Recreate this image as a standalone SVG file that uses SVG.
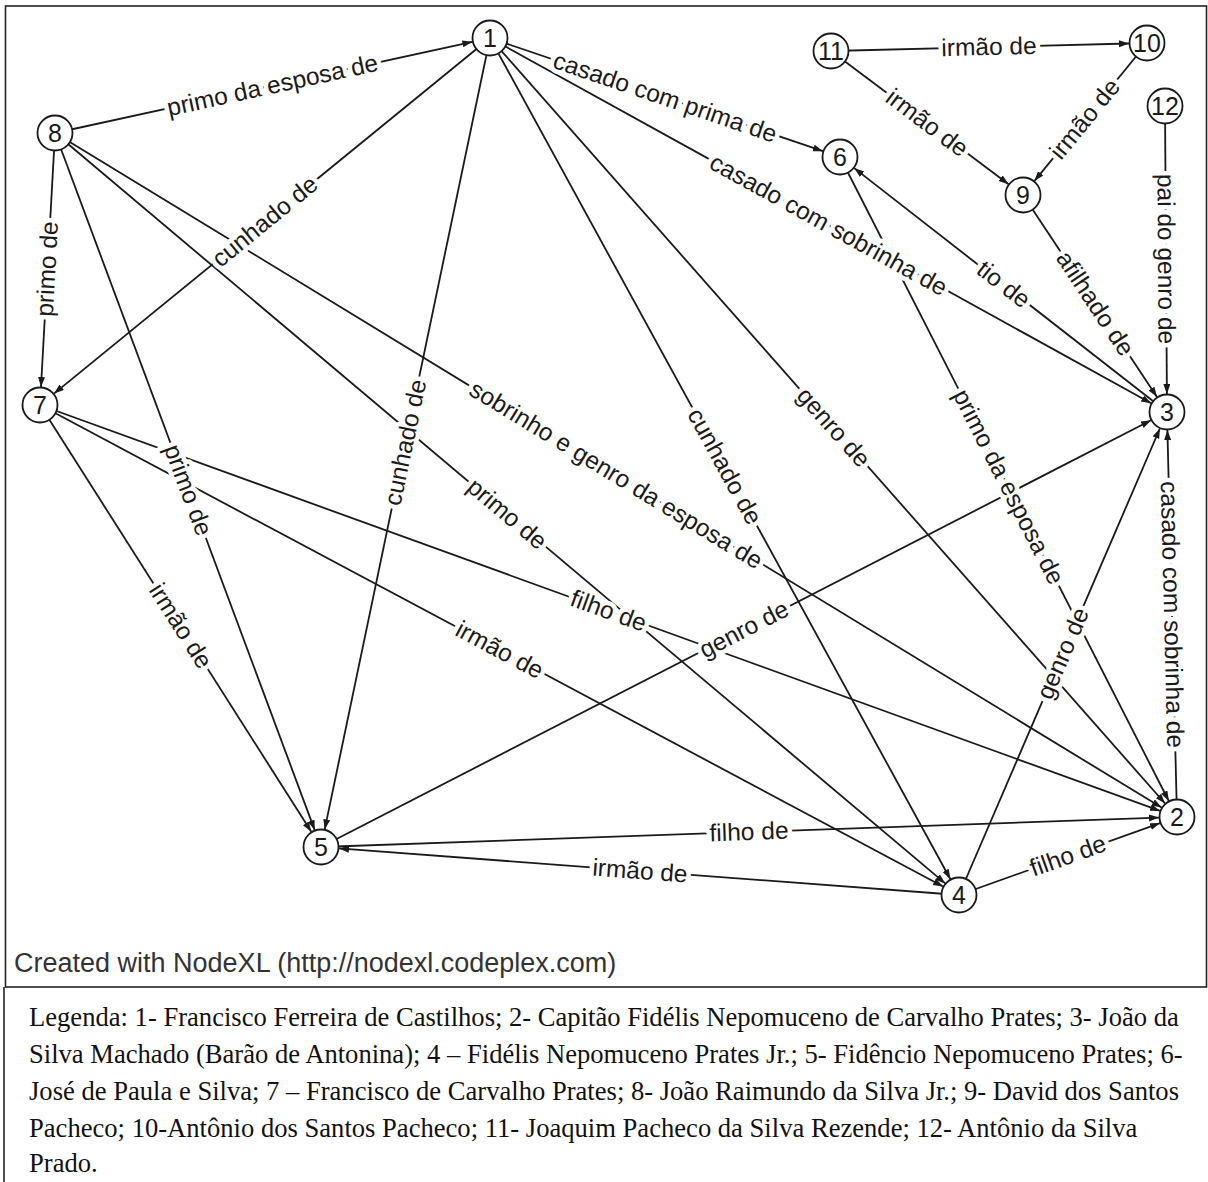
<svg xmlns="http://www.w3.org/2000/svg" width="1208" height="1182" viewBox="0 0 1208 1182">
  <style>
    .edge { stroke: #1a1a1a; stroke-width: 1.8; fill: none; }
    .arrow { marker-end: url(#head); }
    .lbl { font-family: "Liberation Sans", Arial, sans-serif; font-size: 24.5px; fill: #1a1a1a;
           stroke: #ffffff; stroke-width: 9; stroke-linejoin: round; paint-order: stroke; text-anchor: middle; }
    .node circle { fill: #ffffff; stroke: #1a1a1a; stroke-width: 1.8; }
    .node text { font-family: "Liberation Sans", Arial, sans-serif; font-size: 25px; fill: #1a1a1a; text-anchor: middle; }
    .frame { fill: none; stroke: #222; stroke-width: 1.6; }
    .credit { font-family: "Liberation Sans", Arial, sans-serif; font-size: 27px; fill: #333; }
    .legend { font-family: "Liberation Serif", "Times New Roman", serif; font-size: 26.6px; fill: #111; }
  </style>
  <defs>
    <marker id="head" markerUnits="userSpaceOnUse" markerWidth="12" markerHeight="9" refX="10" refY="3.5" orient="auto">
      <path d="M0,0 L10,3.5 L0,7 Z" fill="#1a1a1a"/>
    </marker>
  </defs>

  <rect width="1208" height="1182" fill="#ffffff"/>

  <!-- graph frame and legend box -->
  <rect class="frame" x="5.5" y="6" width="1201" height="981"/>
  <line class="frame" x1="4" y1="987" x2="4" y2="1182"/>

  <!-- connectors -->
  <g id="connectors">
    <line class="edge arrow" x1="55" y1="133" x2="472.4" y2="41.8"/>
    <line class="edge arrow" x1="490" y1="38" x2="823.0" y2="151.2"/>
    <line class="edge arrow" x1="490" y1="38" x2="1151.2" y2="403.3"/>
    <line class="edge arrow" x1="490" y1="38" x2="54.0" y2="393.6"/>
    <line class="edge arrow" x1="490" y1="38" x2="324.7" y2="829.4"/>
    <line class="edge arrow" x1="490" y1="38" x2="950.4" y2="879.2"/>
    <line class="edge arrow" x1="490" y1="38" x2="1165.1" y2="803.5"/>
    <line class="edge arrow" x1="55" y1="133" x2="41.0" y2="387.0"/>
    <line class="edge arrow" x1="55" y1="133" x2="314.7" y2="830.1"/>
    <line class="edge arrow" x1="55" y1="133" x2="945.2" y2="883.4"/>
    <line class="edge arrow" x1="55" y1="133" x2="1161.6" y2="807.6"/>
    <line class="edge arrow" x1="40" y1="405" x2="311.3" y2="831.8"/>
    <line class="edge arrow" x1="40" y1="405" x2="1160.1" y2="810.9"/>
    <line class="edge arrow" x1="40" y1="405" x2="943.1" y2="886.5"/>
    <line class="edge arrow" x1="321" y1="847" x2="1151.0" y2="420.2"/>
    <line class="edge arrow" x1="321" y1="847" x2="1159.0" y2="817.6"/>
    <line class="edge arrow" x1="959" y1="895" x2="339.0" y2="848.4"/>
    <line class="edge arrow" x1="959" y1="895" x2="1160.1" y2="823.1"/>
    <line class="edge arrow" x1="959" y1="895" x2="1159.9" y2="428.5"/>
    <line class="edge arrow" x1="840" y1="157" x2="1168.8" y2="801.0"/>
    <line class="edge arrow" x1="1167" y1="412" x2="854.2" y2="168.1"/>
    <line class="edge arrow" x1="1023" y1="195" x2="1157.0" y2="397.0"/>
    <line class="edge arrow" x1="1165" y1="106" x2="1166.9" y2="394.0"/>
    <line class="edge arrow" x1="831" y1="51" x2="1129.0" y2="43.5"/>
    <line class="edge arrow" x1="831" y1="51" x2="1008.6" y2="184.2"/>
    <line class="edge arrow" x1="1147" y1="43" x2="1034.4" y2="181.1"/>
    <line class="edge arrow" x1="1177" y1="817" x2="1167.4" y2="430.0"/>

    <!-- edge labels, centred on each connector -->
    <g id="edge-labels">
      <text class="lbl" transform="translate(272.5,85.5) rotate(-12.32)" y="8">primo da esposa de</text>
      <text class="lbl" transform="translate(665,97.5) rotate(18.78)" y="8">casado com prima de</text>
      <text class="lbl" transform="translate(828.5,225) rotate(28.92)" y="8">casado com sobrinha de</text>
      <text class="lbl" transform="translate(265,221.5) rotate(-39.20)" y="8">cunhado de</text>
      <text class="lbl" transform="translate(405.5,442.5) rotate(-78.20)" y="8">cunhado de</text>
      <text class="lbl" transform="translate(724.5,466.5) rotate(61.32)" y="8">cunhado de</text>
      <text class="lbl" transform="translate(833.5,427.5) rotate(48.59)" y="8">genro de</text>
      <text class="lbl" transform="translate(47.5,269) rotate(-86.84)" y="8">primo de</text>
      <text class="lbl" transform="translate(188,490) rotate(69.57)" y="8">primo de</text>
      <text class="lbl" transform="translate(507,514) rotate(40.13)" y="8">primo de</text>
      <text class="lbl" transform="translate(616,475) rotate(31.37)" y="8">sobrinho e genro da esposa de</text>
      <text class="lbl" transform="translate(180.5,626) rotate(57.55)" y="8">irmão de</text>
      <text class="lbl" transform="translate(608.5,611) rotate(19.92)" y="8">filho de</text>
      <text class="lbl" transform="translate(499.5,650) rotate(28.07)" y="8">irmão de</text>
      <text class="lbl" transform="translate(744,629.5) rotate(-27.21)" y="8">genro de</text>
      <text class="lbl" transform="translate(749,832) rotate(-2.01)" y="8">filho de</text>
      <text class="lbl" transform="translate(640,871) rotate(4.30)" y="8">irmão de</text>
      <text class="lbl" transform="translate(1068,856) rotate(-19.69)" y="8">filho de</text>
      <text class="lbl" transform="translate(1063,653.5) rotate(-66.70)" y="8">genro de</text>
      <text class="lbl" transform="translate(1008.5,487) rotate(62.95)" y="8">primo da esposa de</text>
      <text class="lbl" transform="translate(1003.5,284.5) rotate(37.95)" y="8">tio de</text>
      <text class="lbl" transform="translate(1095,303.5) rotate(56.43)" y="8">afilhado de</text>
      <text class="lbl" transform="translate(1166,259) rotate(89.63)" y="8">pai do genro de</text>
      <text class="lbl" transform="translate(989,47) rotate(-1.45)" y="8">irmão de</text>
      <text class="lbl" transform="translate(927,123) rotate(36.87)" y="8">irmão de</text>
      <text class="lbl" transform="translate(1085,119) rotate(-50.79)" y="8">irmão de</text>
      <text class="lbl" transform="translate(1172,614.5) rotate(88.59)" y="8">casado com sobrinha de</text>
    </g>
  </g>

  <!-- nodes -->
  <g id="node-1" class="node"><circle cx="490" cy="38" r="17.5"/><text x="490" y="47">1</text></g>
  <g id="node-2" class="node"><circle cx="1177" cy="817" r="17.5"/><text x="1177" y="826">2</text></g>
  <g id="node-3" class="node"><circle cx="1167" cy="412" r="17.5"/><text x="1167" y="421">3</text></g>
  <g id="node-4" class="node"><circle cx="959" cy="895" r="17.5"/><text x="959" y="904">4</text></g>
  <g id="node-5" class="node"><circle cx="321" cy="847" r="17.5"/><text x="321" y="856">5</text></g>
  <g id="node-6" class="node"><circle cx="840" cy="157" r="17.5"/><text x="840" y="166">6</text></g>
  <g id="node-7" class="node"><circle cx="40" cy="405" r="17.5"/><text x="40" y="414">7</text></g>
  <g id="node-8" class="node"><circle cx="55" cy="133" r="17.5"/><text x="55" y="142">8</text></g>
  <g id="node-9" class="node"><circle cx="1023" cy="195" r="17.5"/><text x="1023" y="204">9</text></g>
  <g id="node-10" class="node"><circle cx="1147" cy="43" r="17.5"/><text x="1147" y="52">10</text></g>
  <g id="node-11" class="node"><circle cx="831" cy="51" r="17.5"/><text x="831" y="60">11</text></g>
  <g id="node-12" class="node"><circle cx="1165" cy="106" r="17.5"/><text x="1165" y="115">12</text></g>

  <text class="credit" x="14" y="972">Created with NodeXL (http://nodexl.codeplex.com)</text>

  <!-- legend -->
  <g id="legend" class="legend">
    <text x="29" y="1026">Legenda: 1- Francisco Ferreira de Castilhos; 2- Capitão Fidélis Nepomuceno de Carvalho Prates; 3- João da</text>
    <text x="29" y="1063">Silva Machado (Barão de Antonina); 4 – Fidélis Nepomuceno Prates Jr.; 5- Fidêncio Nepomuceno Prates; 6-</text>
    <text x="29" y="1100">José de Paula e Silva; 7 – Francisco de Carvalho Prates; 8- João Raimundo da Silva Jr.; 9- David dos Santos</text>
    <text x="29" y="1137">Pacheco; 10-Antônio dos Santos Pacheco; 11- Joaquim Pacheco da Silva Rezende; 12- Antônio da Silva</text>
    <text x="29" y="1172">Prado.</text>
  </g>
</svg>
